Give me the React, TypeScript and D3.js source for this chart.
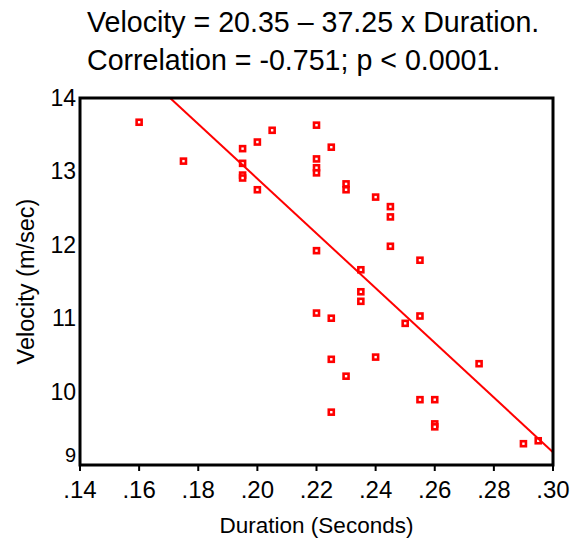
import React from 'react';
import * as d3 from 'd3';

const width = 575;
const height = 541;
const margin = { top: 98, right: 22, bottom: 76, left: 80 };
const red = '#ff0000';
const font = 'Liberation Sans, Arial, sans-serif';

// duration (s) and velocity (m/sec)
const duration = [
  0.16, 0.175, 0.195, 0.195, 0.195, 0.195, 0.2, 0.205, 0.2, 0.22,
  0.22, 0.22, 0.22, 0.225, 0.23, 0.23, 0.24, 0.245, 0.245, 0.245,
  0.255, 0.22, 0.235, 0.235, 0.235, 0.22, 0.225, 0.25, 0.255, 0.225,
  0.24, 0.23, 0.225, 0.255, 0.26, 0.26, 0.26, 0.275, 0.29, 0.295,
];
const velocity = [
  13.67, 13.14, 13.31, 13.11, 12.95, 12.91, 13.4, 13.56, 12.75, 13.63,
  13.17, 13.05, 12.98, 13.33, 12.83, 12.75, 12.65, 12.52, 12.38, 11.98,
  11.79, 11.92, 11.66, 11.36, 11.23, 11.07, 11.0, 10.93, 11.03, 10.44,
  10.47, 10.21, 9.72, 9.89, 9.89, 9.56, 9.52, 10.38, 9.29, 9.33,
];

const xTicks = [0.14, 0.16, 0.18, 0.2, 0.22, 0.24, 0.26, 0.28, 0.3];
const yTicks = [9, 10, 11, 12, 13, 14];

const intercept = 20.35;
const slope = -37.25;

const titleLines = [
  'Velocity = 20.35 \u2013 37.25 x Duration.',
  'Correlation = -0.751; p < 0.0001.',
];

export default function App() {
  const x = d3.scaleLinear().domain([0.14, 0.3]).range([margin.left, width - margin.right]);
  const y = d3.scaleLinear().domain([9, 14]).range([height - margin.bottom, margin.top]);

  const fmt = (d: number) => d3.format('.2f')(d).replace(/^0/, '');

  // fitted line, from where it leaves the top of the frame to the right edge
  const xStart = (14 - intercept) / slope;
  const fit = d3.line<number>()
    .x(d => x(d))
    .y(d => y(intercept + slope * d));

  const points = duration.map((d, i) => ({ dx: d, vy: velocity[i] }));
  const [x0, x1] = x.range();
  const [y0, y1] = y.range();

  return (
    <svg width={width} height={height} style={{ position: 'absolute', left: 0, top: 0 }} fontFamily={font}>
      {titleLines.map((t, i) => (
        <text key={i} x={87} y={32 + i * 38} fontSize={28.6} fill="#000">{t}</text>
      ))}

      {/* points */}
      {points.map((p, i) => (
        <rect key={i} x={x(p.dx) - 2.5} y={y(p.vy) - 2.5} width={5} height={5}
          fill="#fff" stroke={red} strokeWidth={2.6} />
      ))}

      <path d={fit([xStart, 0.3]) || ''} fill="none" stroke={red} strokeWidth={2} />

      {/* frame */}
      <rect x={x0} y={y1} width={x1 - x0} height={y0 - y1} fill="none" stroke="#000" strokeWidth={3} />

      {/* x axis */}
      {xTicks.map(t => (
        <g key={t} transform={`translate(${x(t)},${y0})`}>
          <line y2={6} stroke="#000" strokeWidth={2} />
          <text y={33} textAnchor="middle" fontSize={24}>{fmt(t)}</text>
        </g>
      ))}
      <text x={(x0 + x1) / 2} y={533} textAnchor="middle" fontSize={22.5}>Duration (Seconds)</text>

      {/* y axis */}
      {yTicks.map(t => (
        <text key={t} x={x0 - 4} y={y(t) - (t === 9 ? 10 : 0)} dy="0.35em" textAnchor="end"
          fontSize={t === 9 ? 20 : 23}>{t}</text>
      ))}
      <text transform={`translate(34,${(y0 + y1) / 2}) rotate(-90)`} textAnchor="middle" fontSize={23.5}>
        Velocity (m/sec)
      </text>
    </svg>
  );
}
